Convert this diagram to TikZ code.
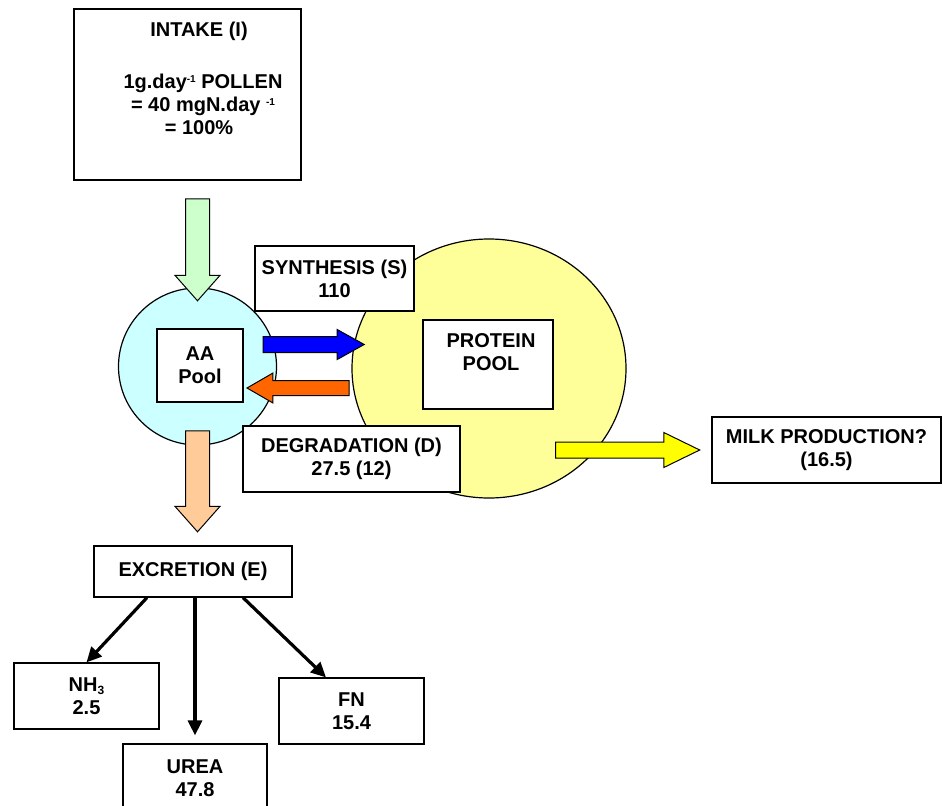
\documentclass[tikz,border=0pt]{standalone}
\usepackage{fontspec}
\setmainfont{Liberation Sans}
\usetikzlibrary{positioning, arrows.meta, shapes.geometric, shapes.arrows}
\definecolor{IntakeGreen}{HTML}{CCFFCC}
\definecolor{AACyan}{HTML}{CCFFFF}
\definecolor{ProteinYellow}{HTML}{FFFF99}
\definecolor{ExcretePeach}{HTML}{FFCC99}
\definecolor{SynthBlue}{HTML}{0000FF}
\definecolor{DegradOrange}{HTML}{FF6600}
\definecolor{MilkYellow}{HTML}{FFFF00}

\begin{document}
\begin{tikzpicture}[
    x=1pt, y=-1pt,
    every node/.style={font=\fontsize{20}{23}\selectfont\bfseries, align=center},
    box/.style={rectangle, draw=black, fill=white, line width=1.2pt, inner sep=0pt},
    txt/.style={inner sep=0pt},
    pool/.style={ellipse, draw=black, line width=1.2pt, inner sep=0pt},
    blockarrow/.style={single arrow, draw=black, line width=1pt, outer sep=0pt,
                       single arrow head indent=0pt},
    conn/.style={-{Triangle[length=15pt, width=14pt]}, line width=3.2pt, black}
]
  \useasboundingbox (0,0) rectangle (943,806);

  % Pools
  \node[pool, fill=AACyan, minimum width=158pt, minimum height=157pt] (aapool) at (197.5,366.5) {};
  \node[pool, fill=ProteinYellow, minimum width=274pt, minimum height=259pt] (protpool) at (489,368.5) {};

  % Intake
  \node[box, minimum width=227pt, minimum height=171pt] (intake) at (187.5,94.5) {};
  \node[txt, anchor=north] (intaketxt) at (199,22) {INTAKE (I)\\[29pt]
    \hspace*{8pt}1g.day\raisebox{6pt}{\fontsize{10}{10}\selectfont -1} POLLEN\\
    \hspace*{8pt}= 40 mgN.day \raisebox{6pt}{\fontsize{10}{10}\selectfont -1}\\
    = 100\%};

  % Boxes in the pools
  \node[box, minimum width=86pt, minimum height=73pt] (aa) at (200,365.5) {AA\\Pool};
  \node[box, minimum width=130pt, minimum height=89pt] (prot) at (488,364.5) {};
  \node[txt, anchor=north] (prottxt) at (491,333) {PROTEIN\\POOL};

  % Fluxes
  \node[box, minimum width=159pt, minimum height=65pt] (synth) at (334.5,278.5) {SYNTHESIS (S)\\110};
  \node[box, minimum width=217pt, minimum height=66pt] (degr) at (351.5,459) {DEGRADATION (D)\\27.5 (12)};
  \node[box, minimum width=229pt, minimum height=66pt] (milk) at (826.5,450) {MILK PRODUCTION?\\(16.5)};

  % Block arrows
  \node[blockarrow, fill=IntakeGreen, shape border rotate=270, inner sep=11.5pt,
        minimum height=102pt, single arrow head extend=10.5pt, single arrow tip angle=83] (inarrow) at (197.5,243) {};
  \node[blockarrow, fill=ExcretePeach, shape border rotate=270, inner sep=11.5pt,
        minimum height=101pt, single arrow head extend=10.5pt, single arrow tip angle=83] (exarrow) at (197.5,474.5) {};
  \node[blockarrow, fill=SynthBlue, inner sep=7.5pt,
        minimum height=101pt, single arrow head extend=7pt, single arrow tip angle=58] (synarrow) at (306.5,344.5) {};
  \node[blockarrow, fill=DegradOrange, shape border rotate=180, inner sep=7pt,
        minimum height=102pt, single arrow head extend=7.5pt, single arrow tip angle=60] (degarrow) at (304.5,388) {};
  \node[blockarrow, fill=MilkYellow, inner sep=7.5pt,
        minimum height=144pt, single arrow head extend=9.5pt, single arrow tip angle=52] (milkarrow) at (619.5,450) {};

  % Excretion
  \node[box, minimum width=198pt, minimum height=51pt] (excr) at (193,571.5) {EXCRETION (E)};
  \node[box, minimum width=145pt, minimum height=66pt] (nh3) at (86.5,696) {NH\raisebox{-3pt}{\fontsize{12}{12}\selectfont 3}\\2.5};
  \node[box, minimum width=144pt, minimum height=68pt] (urea) at (195,778) {UREA\\47.8};
  \node[box, minimum width=145pt, minimum height=66pt] (fn) at (351.5,711) {FN\\15.4};

  \draw[conn] ([xshift=-46pt]excr.south) -- (nh3.north);
  \draw[conn] (urea.north |- excr.south) -- ([yshift=8pt]urea.north);
  \draw[conn] ([xshift=50pt]excr.south) -- ([xshift=-25.5pt]fn.north);
\end{tikzpicture}
\end{document}
